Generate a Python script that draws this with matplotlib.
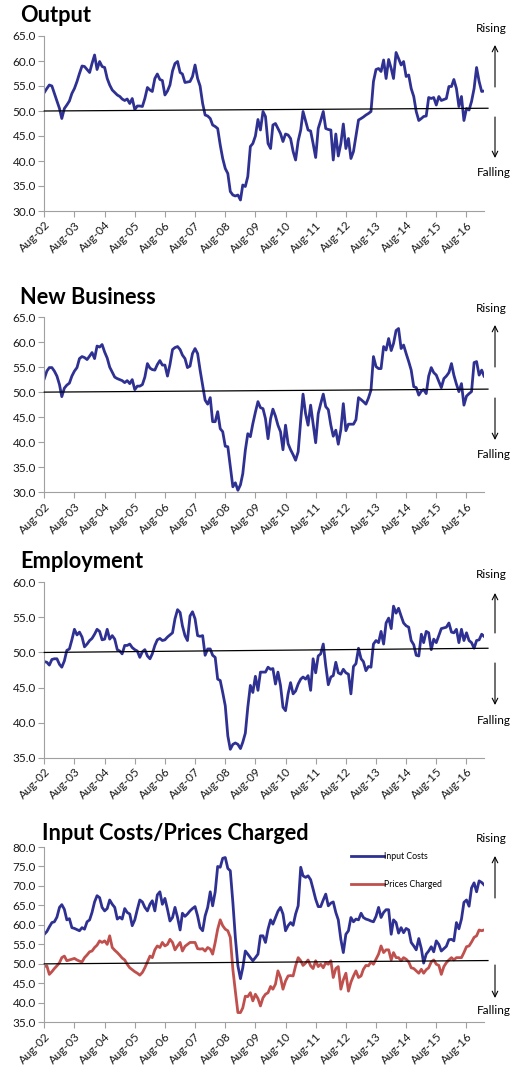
import matplotlib
matplotlib.use("Agg")
import matplotlib.pyplot as plt
import matplotlib.dates as mdates
import pandas as pd

# monthly index readings, Aug-02 .. Mar-17
months = pd.date_range("2002-08-01", periods=176, freq="MS")
year_ticks = pd.date_range("2002-08-01", "2016-08-01", freq="12MS")

output = [
    53.7, 54.5, 55.2, 55.0, 53.5, 52.0, 50.5, 48.5, 50.5, 51.2, 52.0, 53.5,
    54.5, 55.9, 57.5, 59.0, 58.9, 58.3, 57.7, 59.5, 61.2, 58.3, 59.9, 58.9,
    58.7, 56.5, 55.2, 54.2, 53.7, 53.2, 52.9, 52.4, 52.1, 52.4, 51.5, 52.5,
    50.3, 51.0, 51.0, 50.9, 52.5, 54.7, 54.2, 53.9, 56.5, 57.4, 56.3, 56.1,
    53.2, 54.0, 55.2, 58.0, 59.5, 59.9, 57.7, 57.4, 55.7, 55.8, 55.9, 56.9,
    59.2, 56.5, 55.0, 51.5, 49.2, 49.0, 48.5, 47.2, 46.9, 46.5, 43.2, 40.5,
    38.5, 37.5, 33.9, 33.2, 33.0, 33.2, 32.2, 35.2, 34.9, 36.9, 42.9, 43.5,
    45.0, 48.3, 46.2, 49.9, 48.9, 43.5, 42.5, 47.2, 47.5, 46.5, 45.5, 43.9,
    45.4, 45.2, 44.5, 41.9, 40.2, 44.0, 46.2, 49.9, 48.0, 46.2, 46.0, 43.5,
    40.7, 46.5, 48.1, 49.9, 46.5, 46.3, 46.2, 40.2, 45.4, 41.0, 43.5, 47.4,
    42.5, 44.5, 40.5, 41.9, 45.0, 48.2, 48.5, 48.8, 49.2, 49.5, 49.9, 55.9,
    58.3, 58.5, 57.9, 60.2, 56.5, 60.3, 58.5, 56.5, 61.7, 60.5, 59.2, 59.9,
    56.9, 57.2, 54.5, 52.9, 49.9, 48.1, 48.5, 48.9, 49.0, 52.7, 52.5, 52.7,
    51.2, 52.9, 52.1, 52.3, 52.5, 54.9, 54.9, 56.3, 54.5, 50.9, 52.9, 48.1,
    50.5, 50.2, 51.9, 54.5, 58.7, 55.9, 53.9, 54.0,
]

new_business = [
    52.7, 54.2, 54.9, 54.9, 54.2, 53.2, 51.5, 49.1, 50.8, 51.4, 51.8, 53.2,
    54.2, 54.9, 56.7, 57.1, 56.9, 56.5, 57.2, 57.9, 56.7, 59.2, 59.0, 59.5,
    58.0, 56.8, 55.0, 54.0, 53.0, 52.7, 52.5, 52.3, 51.9, 52.3, 51.7, 52.5,
    50.5, 51.2, 51.2, 51.5, 53.0, 55.7, 54.8, 54.5, 54.4, 55.5, 56.3, 55.4,
    55.4, 53.2, 55.5, 58.5, 58.9, 59.1, 58.5, 57.4, 56.7, 54.9, 55.2, 57.7,
    58.7, 57.7, 54.4, 51.4, 48.4, 47.6, 48.9, 44.1, 44.1, 46.1, 42.7, 42.1,
    39.2, 39.1, 35.1, 31.1, 31.9, 30.4, 31.5, 33.7, 38.4, 41.7, 41.1, 43.7,
    46.0, 48.1, 46.9, 46.7, 44.7, 40.7, 44.7, 46.6, 45.2, 43.4, 42.1, 38.5,
    43.4, 39.7, 38.5, 37.5, 36.4, 38.1, 44.4, 49.6, 45.7, 43.4, 47.4, 43.7,
    39.9, 45.7, 47.7, 49.6, 47.1, 46.5, 43.4, 41.2, 42.4, 39.6, 42.5, 47.7,
    42.3, 43.6, 43.6, 43.6, 44.5, 48.9, 48.5, 48.1, 47.6, 48.8, 50.4, 57.1,
    55.1, 54.7, 54.7, 59.1, 58.4, 60.7, 58.3, 59.7, 62.3, 62.7, 58.7, 59.4,
    57.7, 56.1, 54.4, 51.1, 50.9, 49.4, 50.2, 50.5, 49.7, 53.2, 54.9, 53.9,
    53.4, 52.1, 50.9, 52.7, 53.2, 53.9, 55.7, 53.4, 51.6, 50.1, 51.7, 47.4,
    49.2, 49.7, 50.1, 55.9, 56.1, 53.4, 54.4, 53.2,
]

employment = [
    48.7, 48.6, 48.2, 49.0, 49.1, 49.1, 48.3, 47.9, 48.8, 50.3, 50.5, 51.8,
    53.3, 52.5, 52.9, 52.2, 50.8, 51.2, 51.7, 52.0, 52.6, 53.3, 53.0, 51.8,
    51.9, 53.3, 51.9, 52.4, 51.9, 50.4, 50.2, 49.8, 51.0, 51.0, 51.2, 50.7,
    50.4, 50.2, 49.3, 50.1, 50.4, 49.5, 49.1, 49.8, 51.0, 51.8, 52.0, 51.7,
    51.8, 52.2, 52.5, 52.8, 54.8, 56.1, 55.7, 53.8, 52.4, 51.7, 55.2, 55.8,
    54.8, 52.4, 52.3, 52.4, 49.6, 50.5, 50.5, 49.6, 49.3, 46.2, 46.0, 44.3,
    42.4, 38.1, 36.2, 36.9, 37.1, 36.9, 36.3, 37.2, 38.5, 42.2, 45.3, 44.3,
    46.6, 44.6, 47.2, 47.2, 47.2, 47.9, 47.6, 47.7, 45.5, 47.2, 45.3, 42.2,
    41.7, 44.1, 45.7, 44.1, 44.5, 45.5, 46.2, 46.5, 46.2, 46.7, 44.6, 49.1,
    47.1, 49.5, 49.8, 51.2, 48.1, 45.4, 46.5, 46.7, 48.6, 47.1, 46.9, 47.6,
    47.1, 46.9, 44.1, 48.0, 48.4, 50.6, 49.1, 48.7, 47.4, 48.0, 47.9, 51.2,
    51.7, 51.4, 53.0, 51.2, 54.2, 54.9, 53.4, 56.6, 55.6, 56.3, 55.2, 54.2,
    53.8, 53.6, 51.7, 51.1, 49.6, 49.5, 52.6, 51.4, 53.0, 52.8, 50.4, 51.9,
    51.4, 52.4, 53.4, 53.5, 53.6, 54.2, 52.9, 52.8, 53.3, 51.4, 53.3, 51.7,
    52.8, 51.7, 51.4, 50.6, 51.7, 51.8, 52.6, 52.3,
]

input_costs = [
    57.6, 58.3, 59.5, 60.6, 60.8, 62.0, 64.5, 65.2, 64.0, 61.3, 61.6, 59.3,
    59.1, 58.8, 58.5, 59.3, 58.9, 60.8, 61.3, 63.2, 65.9, 67.5, 67.0, 64.5,
    63.6, 64.2, 66.4, 65.3, 64.5, 61.5, 62.0, 61.5, 64.2, 63.2, 62.8, 59.8,
    61.3, 64.0, 66.4, 65.9, 64.5, 63.6, 65.3, 66.2, 63.6, 67.7, 68.5, 65.3,
    66.8, 64.0, 61.0, 61.9, 64.5, 61.9, 58.7, 63.0, 62.2, 62.8, 63.6, 64.2,
    64.7, 62.3, 59.3, 58.5, 62.3, 64.5, 68.5, 64.9, 68.5, 75.0, 74.8, 77.1,
    77.3, 74.5, 73.9, 65.8, 56.8, 49.5, 46.2, 49.0, 53.3, 52.5, 51.6, 50.8,
    51.6, 52.5, 57.2, 57.2, 55.5, 58.9, 61.3, 60.2, 61.9, 63.5, 64.5, 62.8,
    58.5, 59.8, 60.6, 59.9, 62.8, 64.9, 74.8, 72.6, 72.2, 72.6, 71.6, 69.2,
    66.6, 64.7, 64.7, 66.4, 67.9, 64.9, 65.6, 65.9, 63.2, 61.3, 56.3, 52.9,
    57.6, 58.5, 61.9, 60.8, 61.5, 61.3, 63.0, 61.9, 61.5, 61.3, 61.0, 60.8,
    62.2, 64.5, 61.9, 63.2, 63.9, 63.9, 57.6, 61.3, 60.6, 57.9, 59.3, 58.0,
    59.1, 58.7, 55.5, 54.6, 53.6, 56.5, 53.9, 50.2, 52.5, 53.3, 54.4, 53.1,
    55.9, 55.0, 53.3, 53.9, 54.5, 56.2, 56.3, 55.9, 60.6, 59.0, 61.5, 65.8,
    66.4, 64.8, 69.5, 70.8, 68.5, 71.3, 70.9, 70.3,
]

prices_charged = [
    49.3, 49.5, 47.3, 48.0, 48.8, 49.5, 50.3, 51.6, 52.0, 50.8, 51.0, 51.2,
    51.4, 51.0, 50.7, 50.5, 51.6, 52.3, 53.1, 53.3, 54.2, 54.8, 55.9, 55.5,
    55.9, 55.0, 57.2, 54.2, 53.5, 52.9, 52.2, 51.5, 51.0, 49.9, 49.0, 48.5,
    48.0, 47.6, 47.1, 47.8, 49.0, 50.5, 52.0, 51.6, 53.6, 54.6, 54.2, 55.5,
    54.6, 55.0, 56.3, 55.5, 53.6, 54.6, 55.5, 53.3, 54.5, 55.0, 55.5, 55.5,
    55.5, 53.9, 53.8, 53.9, 53.3, 54.2, 53.8, 52.5, 55.5, 58.9, 61.3, 59.8,
    58.9, 58.5, 56.8, 48.6, 43.0, 37.5, 37.5, 38.7, 41.7, 41.6, 42.6, 40.5,
    42.2, 41.1, 39.2, 41.3, 42.2, 42.6, 44.2, 43.5, 44.8, 48.2, 46.5, 43.5,
    45.6, 46.9, 47.0, 46.9, 49.5, 51.6, 50.8, 49.6, 50.2, 51.0, 49.5, 48.8,
    50.8, 49.3, 49.9, 49.0, 50.3, 49.9, 50.8, 46.5, 48.8, 49.3, 43.5, 45.9,
    47.6, 43.0, 45.3, 46.9, 48.2, 46.5, 46.9, 48.6, 49.6, 49.5, 50.5, 49.9,
    51.2, 52.5, 54.6, 52.9, 53.6, 53.6, 51.0, 52.9, 51.6, 51.6, 50.8, 51.6,
    51.2, 50.5, 49.0, 48.8, 48.2, 47.6, 48.6, 47.6, 48.5, 49.0, 50.5, 51.0,
    49.9, 49.6, 47.3, 49.3, 50.3, 51.0, 51.6, 51.0, 51.6, 51.6, 51.6, 52.9,
    54.4, 54.6, 55.6, 56.8, 57.2, 58.7, 58.5, 58.7,
]

BLUE = "#2f3192"
RED = "#c0504d"
W, H = 513, 1068

plt.rcParams["font.family"] = ["Lato", "DejaVu Sans"]
fig = plt.figure(figsize=(W / 100, H / 100), dpi=100)


def fy(py):
    return 1 - py / H


# layout of each panel in pixels (top of plot, bottom of plot, title x, title y,
# rising y, up arrow y0/y1, down arrow y0/y1, falling y, right end of 50 line)
panels = [
    dict(title="Output", series=[(output, BLUE, None)], ylim=(30, 65),
         top=36, bot=211, tx=20, ty=16, rise=28, up=(87, 45), down=(117, 158),
         fall=173, end50=50.55),
    dict(title="New Business", series=[(new_business, BLUE, None)], ylim=(30, 65),
         top=317, bot=492.3, tx=20, ty=297, rise=309, up=(367, 325), down=(398, 440),
         fall=455, end50=50.6),
    dict(title="Employment", series=[(employment, BLUE, None)], ylim=(35, 60),
         top=582.3, bot=757.7, tx=20, ty=562, rise=574, up=(633, 593), down=(663, 705),
         fall=720, end50=50.6),
    dict(title="Input Costs/Prices Charged",
         series=[(input_costs, BLUE, "Input Costs"), (prices_charged, RED, "Prices Charged")],
         ylim=(35, 80), top=847, bot=1022.3, tx=42, ty=833, rise=839, up=(898, 856),
         down=(965, 998), fall=1011, end50=50.85),
]

left_px, right_px = 44.3, 484.0

for p in panels:
    ax = fig.add_axes([left_px / W, fy(p["bot"]), (right_px - left_px) / W,
                       (p["bot"] - p["top"]) / H])
    for vals, col, lab in p["series"]:
        ax.plot(months, vals, color=col, lw=2.0, label=lab, solid_joinstyle="round")

    ax.plot([0, 1.009], [50, p["end50"]], transform=ax.get_yaxis_transform(),
            color="black", lw=0.9, clip_on=False, zorder=3)

    ax.set_xlim(months[0], months[-1])
    ax.set_ylim(*p["ylim"])
    ax.set_yticks(range(p["ylim"][0], p["ylim"][1] + 1, 5))
    ax.yaxis.set_major_formatter(plt.FormatStrFormatter("%.1f"))
    ax.set_xticks(year_ticks)
    ax.xaxis.set_major_formatter(mdates.DateFormatter("%b-%y"))
    for lbl in ax.get_xticklabels():
        lbl.set_rotation(45)
        lbl.set_ha("right")
        lbl.set_rotation_mode("anchor")

    for s in ("top", "right"):
        ax.spines[s].set_visible(False)
    for s in ("left", "bottom"):
        ax.spines[s].set_color("#a0a0a0")
        ax.spines[s].set_linewidth(0.8)
    ax.tick_params(axis="both", colors="#a0a0a0", labelcolor="#1a1a1a",
                   labelsize=8.5, length=4, width=0.8, direction="out")
    ax.tick_params(axis="x", pad=2)
    ax.tick_params(axis="y", pad=2)

    fig.text(p["tx"] / W, fy(p["ty"]), p["title"], fontsize=15.7, fontweight="bold",
             ha="left", va="center", color="black")
    fig.text(491 / W, fy(p["rise"]), "Rising", fontsize=8.5, ha="center", va="center")
    fig.text(494 / W, fy(p["fall"]), "Falling", fontsize=8.5, ha="center", va="center")
    for y0, y1 in (p["up"], p["down"]):
        ax.annotate("", xy=(495 / W, fy(y1)), xytext=(495 / W, fy(y0)),
                    xycoords="figure fraction", textcoords="figure fraction",
                    arrowprops=dict(arrowstyle="->", lw=0.8, color="black",
                                    shrinkA=0, shrinkB=0))

    if len(p["series"]) > 1:
        ax.legend(loc="upper left", bbox_to_anchor=(0.69, 0.99), frameon=False,
                  fontsize=6.3, handlelength=3.7, handletextpad=0.05,
                  labelspacing=2.1, borderaxespad=0)

fig.savefig("out.png", dpi=100)
